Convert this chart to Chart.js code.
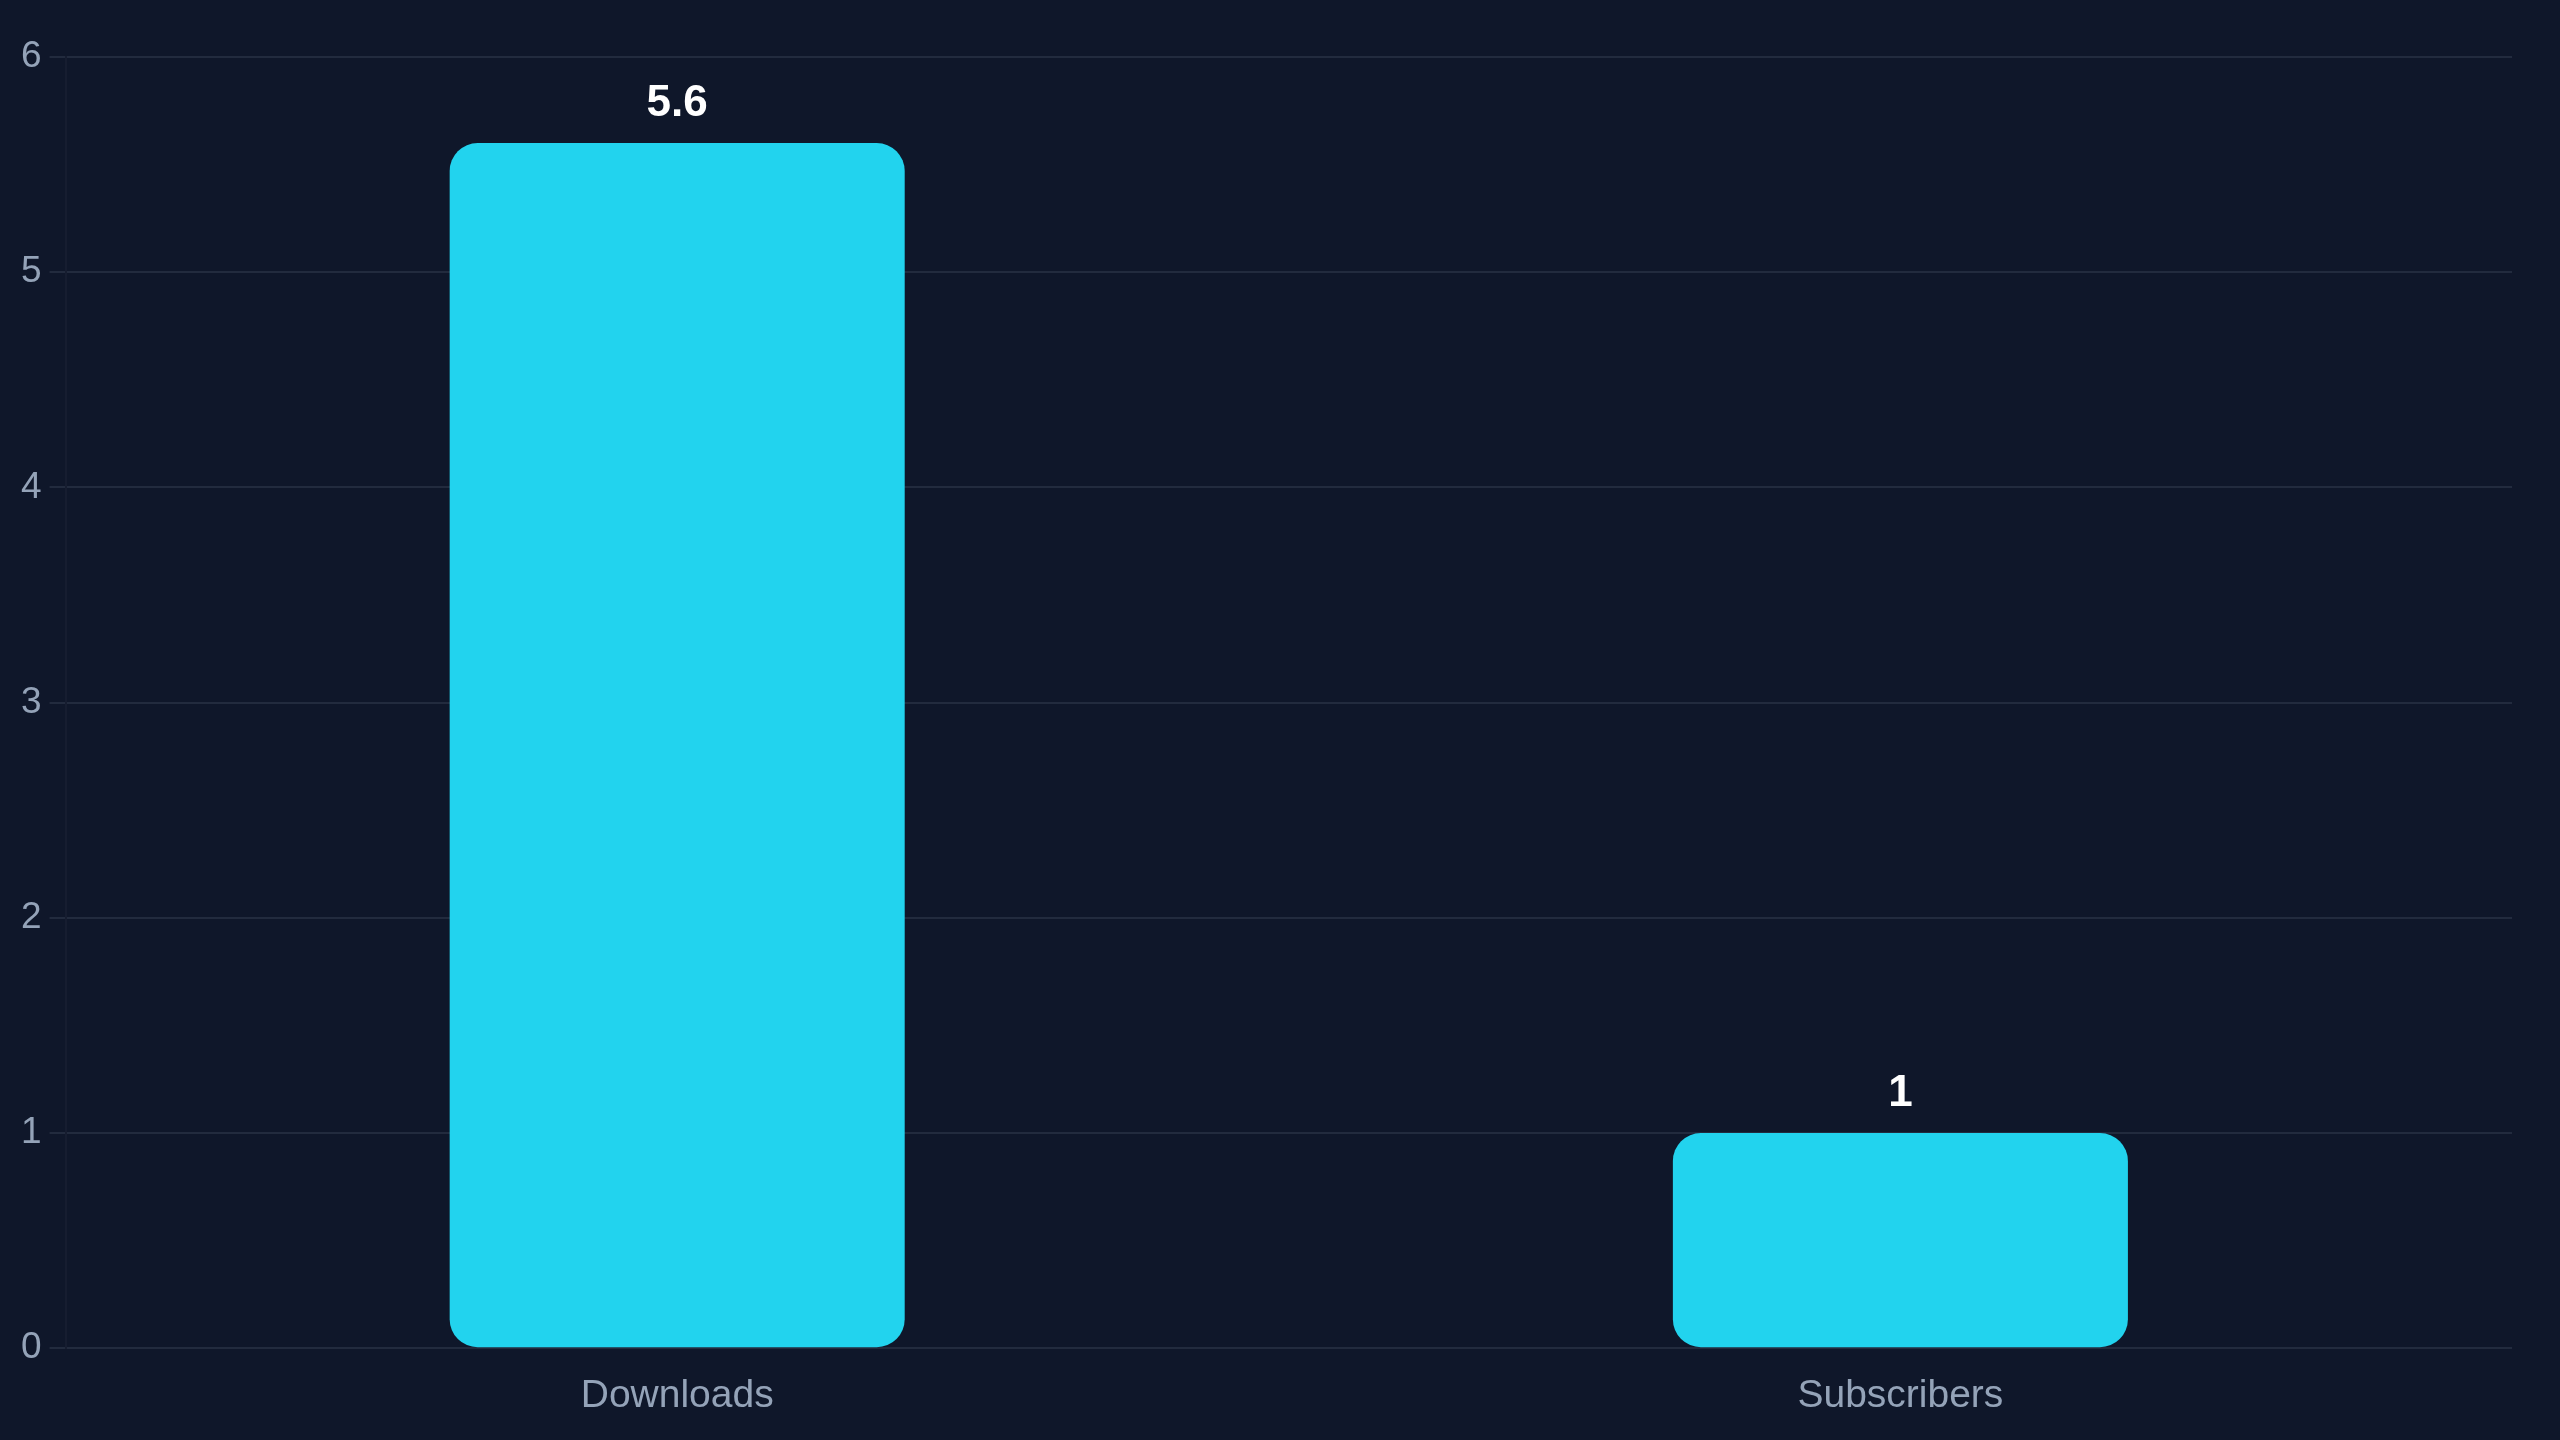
<!DOCTYPE html>
<html>
<head>
<meta charset="utf-8">
<style>
  html, body { margin: 0; padding: 0; background: #0f172a; }
  #wrap { width: 2560px; height: 1440px; }
  canvas { display: block; }
</style>
<script src="https://cdn.jsdelivr.net/npm/chart.js@4.4.1/dist/chart.umd.min.js"></script>
</head>
<body>
<div id="wrap"><canvas id="c" width="2560" height="1440"></canvas></div>
<script>
const categories = ["Downloads", "Subscribers"];
const values = [5.6, 1];
const yTicks = [0, 1, 2, 3, 4, 5, 6];

const FONT = "'Liberation Sans', Arial, Helvetica, sans-serif";

const valueLabels = {
  id: 'valueLabels',
  afterDatasetsDraw(chart) {
    const ctx = chart.ctx;
    const meta = chart.getDatasetMeta(0);
    ctx.save();
    ctx.fillStyle = '#ffffff';
    ctx.font = 'bold 44px ' + FONT;
    ctx.textAlign = 'center';
    ctx.textBaseline = 'alphabetic';
    meta.data.forEach((bar, i) => {
      ctx.fillText(String(values[i]), bar.x, bar.y - 27);
    });
    ctx.restore();
  }
};

new Chart(document.getElementById('c'), {
  type: 'bar',
  data: {
    labels: categories,
    datasets: [{
      data: values,
      backgroundColor: '#22d3ee',
      borderRadius: 28,
      borderSkipped: false,
      barPercentage: 0.62,
      categoryPercentage: 0.6
    }]
  },
  options: {
    responsive: false,
    animation: false,
    devicePixelRatio: 1,
    layout: { padding: { top: 57, right: 48, bottom: 3, left: 13 } },
    plugins: {
      legend: { display: false },
      tooltip: { enabled: false }
    },
    scales: {
      x: {
        grid: { display: false },
        border: { display: false },
        ticks: { color: '#94a3b8', font: { family: FONT, size: 39 }, padding: 17 }
      },
      y: {
        min: yTicks[0],
        max: yTicks[yTicks.length - 1],
        afterBuildTicks(axis) { axis.ticks = yTicks.map(v => ({ value: v })); },
        grid: { color: 'rgba(148,163,184,0.15)', lineWidth: 2, tickLength: 16 },
        border: { display: true, color: 'rgba(148,163,184,0.05)', width: 2 },
        ticks: { color: '#94a3b8', font: { family: FONT, size: 37 }, padding: 8 }
      }
    }
  },
  plugins: [valueLabels]
});
</script>
</body>
</html>
